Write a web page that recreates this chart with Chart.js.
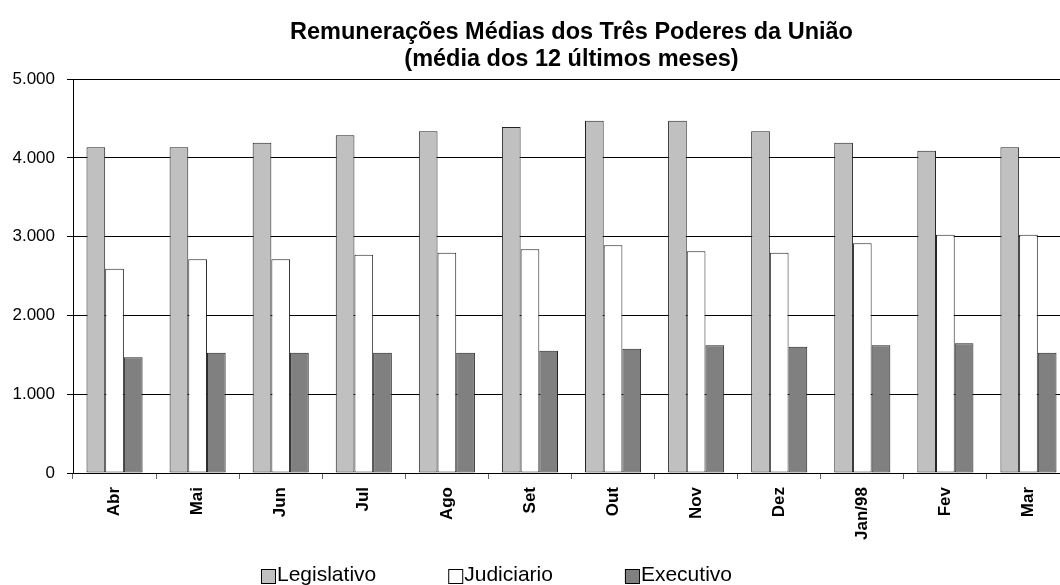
<!DOCTYPE html>
<html>
<head>
<meta charset="utf-8">
<script src="https://cdn.jsdelivr.net/npm/chart.js@4.4.1/dist/chart.umd.min.js"></script>
<style>
    html, body { margin: 0; padding: 0; background: #fff; overflow: hidden; }
    #wrap { width: 1075px; height: 585px; }
</style>
</head>
<body>
<div id="wrap"><canvas id="chart" width="1075" height="585"></canvas></div>
<script>
// months (Abr/97 .. Mar/98)
const MONTHS = ['Abr', 'Mai', 'Jun', 'Jul', 'Ago', 'Set', 'Out', 'Nov', 'Dez', 'Jan/98', 'Fev', 'Mar'];

const LEGISLATIVO = [4134, 4134, 4190, 4287, 4338, 4393, 4470, 4470, 4338, 4190, 4089, 4134];
const JUDICIARIO = [2591, 2713, 2713, 2769, 2794, 2840, 2891, 2815, 2794, 2916, 3023, 3023];
const EXECUTIVO = [1470, 1525, 1525, 1525, 1525, 1551, 1576, 1622, 1601, 1622, 1647, 1525];

const SERIES_NAMES = ['Legislativo', 'Judiciario', 'Executivo'];
const Y_TICKS = [0, 1000, 2000, 3000, 4000, 5000];

const TITLE_LINES = ['Remunerações Médias dos Três Poderes da União', '(média dos 12 últimos meses)'];

const FONT = '"Liberation Sans", Arial, sans-serif';
const COLORS = ['#c0c0c0', '#ffffff', '#808080'];

function formatThousands(v) {
    return String(v).replace(/\B(?=(\d{3})+(?!\d))/g, '.');
}

// legend drawn at the bottom, boxes touching the text like the old spreadsheet
const bottomLegend = {
    id: 'bottomLegend',
    afterDraw: function (chart) {
        const ctx = chart.ctx;
        const boxSize = 14;
        const gap = 72;
        const yMid = 576;
        let x = 261;
        ctx.save();
        ctx.font = '21px ' + FONT;
        ctx.textBaseline = 'middle';
        ctx.textAlign = 'left';
        chart.data.datasets.forEach(function (ds) {
            ctx.fillStyle = ds.backgroundColor;
            ctx.fillRect(x, yMid - boxSize / 2, boxSize, boxSize);
            ctx.strokeStyle = '#000';
            ctx.lineWidth = 1;
            ctx.strokeRect(x + 0.5, yMid - boxSize / 2 + 0.5, boxSize, boxSize);
            ctx.fillStyle = '#000';
            ctx.fillText(ds.label, x + boxSize + 2, yMid - 1);
            x += boxSize + 2 + ctx.measureText(ds.label).width + gap;
        });
        ctx.restore();
    },
};

const seriesData = [LEGISLATIVO, JUDICIARIO, EXECUTIVO];

new Chart(document.getElementById('chart').getContext('2d'), {
    type: 'bar',
    data: {
        labels: MONTHS,
        datasets: SERIES_NAMES.map(function (name, i) {
            return {
                label: name,
                data: seriesData[i],
                backgroundColor: COLORS[i],
                borderColor: '#222',
                borderWidth: 1,
                borderSkipped: false,
                categoryPercentage: 0.675,
                barPercentage: 1.0,
            };
        }),
    },
    options: {
        responsive: false,
        animation: false,
        layout: { padding: { top: 0, left: 0, right: 5, bottom: 42 } },
        plugins: {
            legend: { display: false },
            tooltip: { enabled: false },
            title: {
                display: true,
                fullSize: false,
                text: TITLE_LINES,
                color: '#000',
                font: { family: FONT, size: 23.5, weight: 'bold', lineHeight: 1.15 },
                padding: { top: 19, bottom: 6 },
            },
        },
        scales: {
            x: {
                offset: true,
                grid: {
                    offset: true,
                    drawOnChartArea: false,
                    drawTicks: true,
                    tickLength: 6,
                    color: '#666',
                },
                border: { display: true, color: '#000', width: 1 },
                ticks: {
                    autoSkip: false,
                    maxRotation: 90,
                    minRotation: 90,
                    padding: 8,
                    color: '#000',
                    font: { family: FONT, size: 17, weight: 'bold' },
                },
                afterFit: function (scale) {
                    scale.height = 70;
                },
            },
            y: {
                min: 0,
                max: 5000,
                afterBuildTicks: function (scale) {
                    scale.ticks = Y_TICKS.map(function (v) {
                        return { value: v };
                    });
                },
                grid: { color: '#000', lineWidth: 1, drawTicks: true, tickLength: 6 },
                border: { display: true, color: '#000', width: 1 },
                ticks: {
                    padding: 12,
                    color: '#000',
                    font: { family: FONT, size: 17 },
                    callback: function (v) {
                        return formatThousands(v);
                    },
                },
                afterFit: function (scale) {
                    scale.width = 73;
                },
            },
        },
    },
    plugins: [bottomLegend],
});
</script>
</body>
</html>
